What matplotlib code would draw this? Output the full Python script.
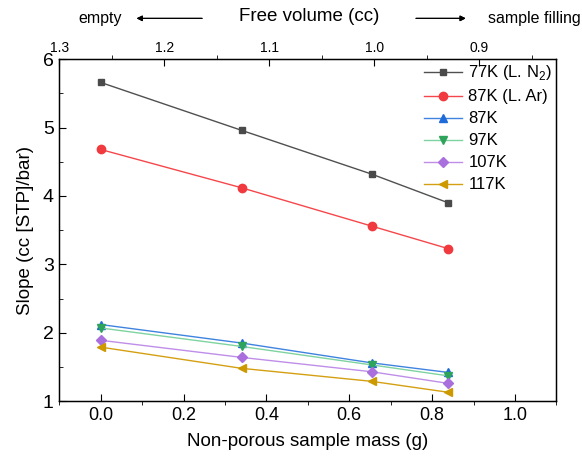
import numpy as np
import matplotlib.pyplot as plt
from matplotlib.ticker import MultipleLocator

plt.rcParams['font.family'] = ['Liberation Sans', 'DejaVu Sans']
plt.rcParams['mathtext.fontset'] = 'custom'
plt.rcParams['mathtext.rm'] = 'Liberation Sans'

# sample mass (g)
mass = [0.0, 0.34, 0.654, 0.839]

labels = ['77K (L. N$_2$)', '87K (L. Ar)', '87K', '97K', '107K', '117K']
slope_77_n2 = [5.66, 4.96, 4.32, 3.90]
slope_87_ar = [4.68, 4.12, 3.56, 3.23]
slope_87 = [2.12, 1.85, 1.56, 1.42]
slope_97 = [2.07, 1.80, 1.53, 1.37]
slope_107 = [1.89, 1.64, 1.43, 1.26]
slope_117 = [1.79, 1.48, 1.29, 1.13]

series = [slope_77_n2, slope_87_ar, slope_87, slope_97, slope_107, slope_117]
markers = ['s', 'o', '^', 'v', 'D', '<']
line_colors = ['#505050', '#f5474b', '#3f83e0', '#7fd3a0', '#bf8ee8', '#d4a012']
marker_colors = ['#4a4a4a', '#f03a3f', '#1e6ad8', '#2da35c', '#a96fdc', '#cc9a00']
msizes = [5, 6, 6, 6, 5, 6]

fig = plt.figure(figsize=(5.82, 4.59), dpi=100)
ax = fig.add_axes([0.102, 0.126, 0.854, 0.745])

for y, lab, m, lc, mc, ms in zip(series, labels, markers, line_colors, marker_colors, msizes):
    ax.plot(mass, y, color=lc, lw=1.0, marker=m, ms=ms, mfc=mc, mec=mc, label=lab)

ax.set_xlim(-0.1, 1.1)
ax.set_ylim(1, 6)
ax.xaxis.set_major_locator(MultipleLocator(0.2))
ax.xaxis.set_minor_locator(MultipleLocator(0.1))
ax.yaxis.set_major_locator(MultipleLocator(1))
ax.yaxis.set_minor_locator(MultipleLocator(0.5))
ax.tick_params(axis='x', which='major', direction='in', length=5, labelsize=13, pad=4)
ax.tick_params(axis='x', which='minor', direction='out', length=3)
ax.tick_params(axis='y', which='major', direction='in', length=5, labelsize=14, pad=4)
ax.tick_params(axis='y', which='minor', direction='in', length=3)
ax.tick_params(top=False, right=False, which='both')
ax.xaxis.set_major_formatter(plt.FuncFormatter(lambda v, p: f'{v:.1f}'))
ax.set_xlabel('Non-porous sample mass (g)', fontsize=13.5, labelpad=7)
ax.set_ylabel('Slope (cc [STP]/bar)', fontsize=13.5, labelpad=6)
for s in ax.spines.values():
    s.set_linewidth(1.0)

top = ax.twiny()
top.set_xlim(1.3, 0.8263)
top.xaxis.set_major_locator(MultipleLocator(0.1))
top.xaxis.set_minor_locator(MultipleLocator(0.05))
top.tick_params(axis='x', which='major', direction='in', length=5, labelsize=10, pad=3)
top.tick_params(axis='x', which='minor', direction='out', length=3)
top.xaxis.set_major_formatter(plt.FuncFormatter(lambda v, p: f'{v:.1f}'))

fig.text(0.531, 0.965, 'Free volume (cc)', fontsize=13.5, ha='center', va='center')
fig.text(0.134, 0.96, 'empty', fontsize=11.5, ha='left', va='center')
fig.text(0.998, 0.96, 'sample filling', fontsize=11.5, ha='right', va='center')
arrow = dict(arrowstyle='-|>', color='black', lw=0.8, mutation_scale=8)
fig.add_artist(plt.annotate('', xy=(0.23, 0.96), xytext=(0.352, 0.96),
                            xycoords='figure fraction', arrowprops=arrow))
fig.add_artist(plt.annotate('', xy=(0.805, 0.96), xytext=(0.71, 0.96),
                            xycoords='figure fraction', arrowprops=arrow))

ax.legend(loc='upper right', bbox_to_anchor=(1.0, 1.0), frameon=False, fontsize=12,
          handlelength=2.3, handletextpad=0.35, labelspacing=0.42,
          borderaxespad=0.1, borderpad=0.15)

fig.savefig('out.png', dpi=100)
